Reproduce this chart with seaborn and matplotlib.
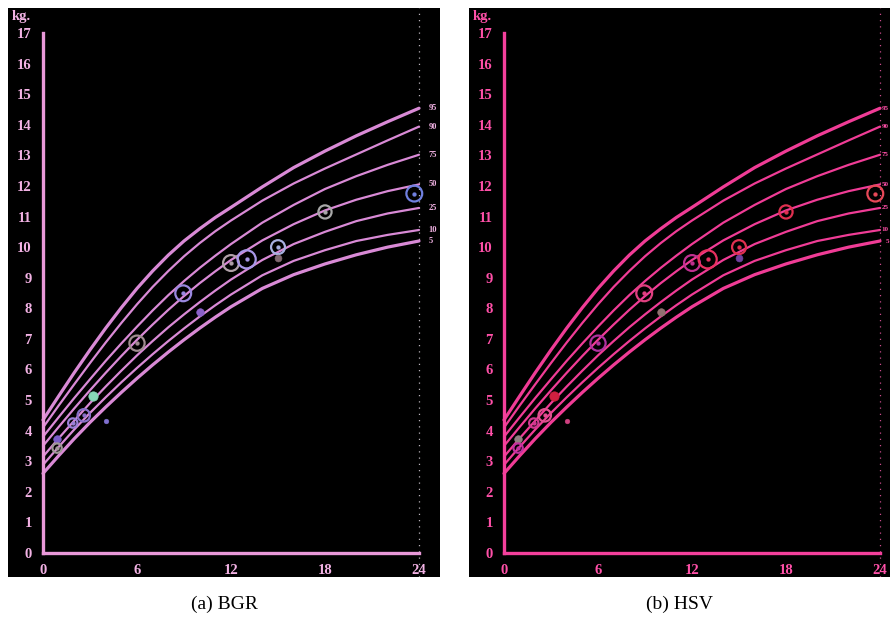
import numpy as np
import pandas as pd
import matplotlib
matplotlib.use("Agg")
import matplotlib.pyplot as plt
import seaborn as sns

# ---------------- data ----------------
months = [0, 1, 2, 3, 4, 5, 6, 7, 8, 9, 10, 11, 12, 14, 16, 18, 20, 22, 24]
p95 = [4.35, 5.13, 5.90, 6.64, 7.35, 8.02, 8.65, 9.22, 9.74, 10.20, 10.60, 10.97, 11.30, 11.97, 12.60, 13.14, 13.64, 14.10, 14.54]
p90 = [4.10, 4.82, 5.52, 6.21, 6.88, 7.52, 8.13, 8.70, 9.22, 9.70, 10.13, 10.52, 10.87, 11.52, 12.08, 12.57, 13.03, 13.49, 13.94]
p75 = [3.80, 4.44, 5.07, 5.68, 6.28, 6.85, 7.40, 7.93, 8.43, 8.89, 9.32, 9.72, 10.10, 10.80, 11.38, 11.90, 12.32, 12.69, 13.02]
p50 = [3.50, 4.12, 4.73, 5.32, 5.89, 6.44, 6.97, 7.47, 7.95, 8.40, 8.82, 9.21, 9.58, 10.22, 10.75, 11.20, 11.55, 11.83, 12.05]
p25 = [3.15, 3.75, 4.33, 4.90, 5.44, 5.96, 6.46, 6.93, 7.38, 7.80, 8.20, 8.58, 8.94, 9.58, 10.10, 10.50, 10.85, 11.10, 11.28]
p10 = [2.88, 3.47, 4.04, 4.58, 5.09, 5.58, 6.05, 6.50, 6.93, 7.34, 7.73, 8.10, 8.45, 9.08, 9.55, 9.90, 10.20, 10.40, 10.56]
p5 = [2.60, 3.18, 3.74, 4.27, 4.77, 5.25, 5.71, 6.15, 6.57, 6.97, 7.35, 7.71, 8.05, 8.65, 9.10, 9.45, 9.75, 10.00, 10.20]
percentile_names = ["95", "90", "75", "50", "25", "10", "5"]
percentile_values = [p95, p90, p75, p50, p25, p10, p5]

pt_month = [0.9, 0.9, 1.9, 2.6, 3.2, 4.0, 6.0, 8.95, 10.0, 12.0, 13.0, 15.0, 15.0, 18.0, 23.7]
pt_kg = [3.72, 3.43, 4.25, 4.50, 5.12, 4.30, 6.86, 8.49, 7.89, 9.48, 9.60, 10.0, 9.65, 11.15, 11.75]
pt_size = [30, 45, 45, 80, 45, 12, 120, 130, 30, 130, 170, 100, 25, 90, 130]
pt_filled = [True, False, False, False, True, True, False, False, True, False, False, False, True, False, False]
pt_color_bgr = ["#7a5cc8", "#a09898", "#9a80d8", "#8870c8", "#88d8b8", "#8070d0", "#a08c90",
                "#9a88e0", "#8a60c8", "#b0a0a8", "#a898e8", "#a8b0e0", "#806870", "#a8a8a8", "#7080e0"]
pt_color_hsv = ["#908080", "#c030a0", "#d03890", "#e05090", "#d02040", "#d04080", "#b030a0",
                "#e04080", "#907070", "#c03090", "#e83060", "#e03050", "#7040a0", "#e03050", "#e84858"]

x_ticks = [0, 6, 12, 18, 24]
y_ticks = list(range(0, 18))

rows = []
for name, vals in zip(percentile_names, percentile_values):
    for m, v in zip(months, vals):
        rows.append({"month": m, "kg": v, "pct": name})
curves = pd.DataFrame(rows)
points = pd.DataFrame({"month": pt_month, "kg": pt_kg, "size": pt_size, "filled": pt_filled})

# ---------------- figure ----------------
sns.set_style("white")
plt.rcParams["font.family"] = ["Liberation Serif", "DejaVu Serif"]

W, H = 890, 622
fig = plt.figure(figsize=(W / 100, H / 100), dpi=100)
fig.patch.set_facecolor("white")

px_per_month = (419 - 43) / 24
px_per_kg = (553 - 33) / 17

panels = [
    dict(left=8, right=440, x0=43, label="(a) BGR", cx=224, lab_x=24.6, lab_ha="left", lab_fs=6,
         line="#d98ad6", axis="#e898d8", text="#f2b2e4", pts=pt_color_bgr, dots="#e8e0e8"),
    dict(left=469, right=890, x0=504, label="(b) HSV", cx=680, lab_x=24.56, lab_ha="right", lab_fs=5,
         line="#f03c96", axis="#f4409c", text="#ff50a8", pts=pt_color_hsv, dots="#ff60b0"),
]
top, bottom = 8, 577

for p in panels:
    ax = fig.add_axes([p["left"] / W, (H - bottom) / H, (p["right"] - p["left"]) / W, (bottom - top) / H])
    ax.set_facecolor("black")
    ax.set_xlim(-(p["x0"] - p["left"]) / px_per_month, 24 + (p["right"] - (p["x0"] + 24 * px_per_month)) / px_per_month)
    ax.set_ylim(-(bottom - 553) / px_per_kg, 17 + (33 - top) / px_per_kg)

    # faint dotted guide at 24 months
    ax.axvline(24, color=p["dots"], lw=0.9, ls=(0, (1, 4)), alpha=0.8, zorder=1)

    for name in percentile_names:
        sub = curves[curves["pct"] == name]
        lw = 2.3 if name in ("95", "5") else 1.6
        sns.lineplot(data=sub, x="month", y="kg", color=p["line"], lw=lw, ax=ax,
                     legend=False, zorder=3, solid_capstyle="round", solid_joinstyle="round")

    for i, row in points.iterrows():
        c = p["pts"][i]
        if row["filled"]:
            sns.scatterplot(x=[row["month"]], y=[row["kg"]], s=row["size"], color=c,
                            edgecolor=c, ax=ax, zorder=4, legend=False)
        else:
            sns.scatterplot(x=[row["month"]], y=[row["kg"]], s=row["size"], facecolor="none",
                            edgecolor=c, linewidth=1.6, ax=ax, zorder=4, legend=False)
            sns.scatterplot(x=[row["month"]], y=[row["kg"]], s=8, color=c, edgecolor=c,
                            ax=ax, zorder=4, legend=False)

    # percentile labels at the right end
    for name, vals in zip(percentile_names, percentile_values):
        ax.text(p["lab_x"], vals[-1], name, color=p["text"], fontsize=p["lab_fs"], fontweight="bold",
                va="center", ha=p["lab_ha"], clip_on=True)

    for s in ("top", "right"):
        ax.spines[s].set_visible(False)
    ax.spines["left"].set_position(("data", 0))
    ax.spines["bottom"].set_position(("data", 0))
    ax.spines["left"].set_bounds(0, 17)
    ax.spines["bottom"].set_bounds(0, 24)
    for s in ("left", "bottom"):
        ax.spines[s].set_color(p["axis"])
        ax.spines[s].set_linewidth(2.4)
        ax.spines[s].set_zorder(5)
    ax.set_xticks(x_ticks)
    ax.set_yticks(y_ticks)
    ax.set_xticklabels([str(t) for t in x_ticks])
    ax.set_yticklabels([str(t) for t in y_ticks])
    ax.tick_params(axis="both", colors=p["axis"], labelcolor=p["text"], length=5, width=1.8,
                   labelsize=10.5, direction="out", pad=3)
    for lab in ax.get_xticklabels() + ax.get_yticklabels():
        lab.set_fontweight("bold")
    ax.set_xlabel("")
    ax.set_ylabel("")
    ax.grid(False)

    ax.text(-(p["x0"] - p["left"] - 4) / px_per_month, 17.55, "kg.", color=p["text"],
            fontsize=10.5, fontweight="bold", ha="left", va="center")

    fig.text(p["cx"] / W, 1 - 604 / H, p["label"], ha="center", va="center", fontsize=14,
             color="black", family=["Liberation Serif", "DejaVu Serif"])

fig.savefig("out.png", dpi=100, facecolor="white")
